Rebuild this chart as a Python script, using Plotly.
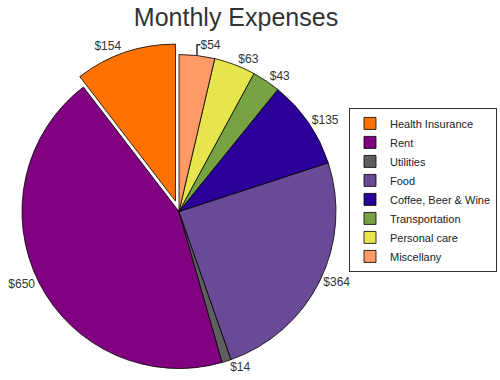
import plotly.graph_objects as go

categories = ["Health Insurance", "Rent", "Utilities", "Food", "Coffee, Beer & Wine",
              "Transportation", "Personal care", "Miscellany"]
values = [154, 650, 14, 364, 135, 43, 63, 54]
colors = ["#FF7100", "#800080", "#5F5F5F", "#6A4A96", "#2A0099", "#77A343", "#E6E64C", "#FF9966"]
pulls = [0.07, 0, 0, 0, 0, 0, 0, 0]

start_rot = -values[0] / sum(values) * 360

fig = go.Figure(go.Pie(
    labels=categories,
    values=values,
    sort=False,
    direction="counterclockwise",
    rotation=start_rot,
    pull=pulls,
    marker=dict(colors=colors, line=dict(color="#000000", width=0.8)),
    textposition="outside",
    texttemplate="$%{value}",
    textfont=dict(family="Liberation Sans, Arial, sans-serif", size=12, color="#333333"),
    domain=dict(x=[0.022, 0.694], y=[0.0013, 0.8855]),
    hoverinfo="label+value",
))

fig.update_layout(
    width=500, height=380,
    margin=dict(l=0, r=0, t=0, b=0, autoexpand=False),
    paper_bgcolor="white",
    title=dict(text="Monthly Expenses", x=0.472, xanchor="center", y=0.978, yanchor="top",
               font=dict(family="Liberation Sans, Arial, sans-serif", size=25, color="#333333")),
    legend=dict(x=0.698, y=0.716, xanchor="left", yanchor="top",
                bordercolor="#333333", borderwidth=1,
                font=dict(family="Liberation Sans, Arial, sans-serif", size=11, color="#222222"),
                traceorder="normal"),
)

# remove the browser's default page margin so the 500x380 figure fills the window exactly
fig.write_html("out.html", config={"displayModeBar": False},
               post_script="document.body.style.margin='0';")
